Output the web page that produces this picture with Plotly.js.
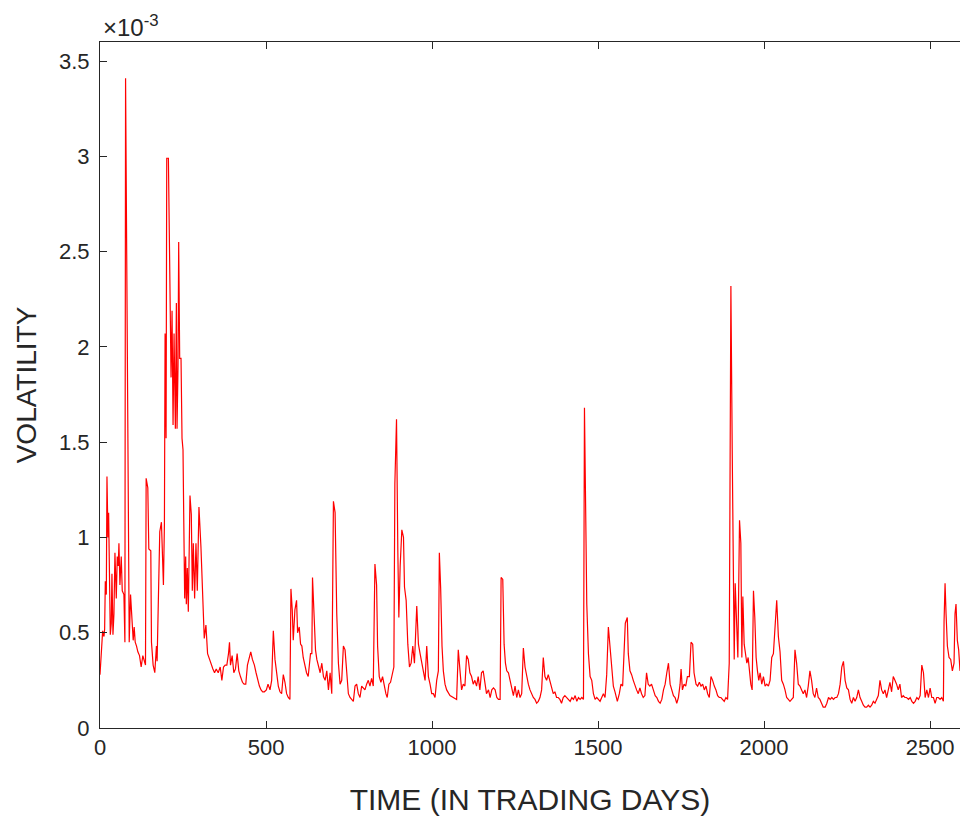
<!DOCTYPE html>
<html>
<head>
<meta charset="utf-8">
<script src="https://cdn.plot.ly/plotly-3.0.1.min.js"></script>
<style>
  html, body { margin: 0; padding: 0; background: #ffffff; }
  #chart { width: 960px; height: 816px; }
</style>
</head>
<body>
<div id="chart"></div>
<script>
// Trading day index (x)
const days = [
  0,2,4,8,12,14,16,19,21,24,26,29,31,34,36,39,42,45,49,52,55,57,60,64,67,72,75,77,80,84,88,92,96,100,103,106,110,114,119,124,129,134,137,139,144,147,153,155,160,165,170,172,175,180,185,191,194,196,199,201,206,209,211,214,217,220,223,227,230,232,235,237,240,244,247,250,252,255,258,260,263,266,271,275,278,281,285,289,293,298,304,309,314,319,324,330,335,340,345,
  350,356,362,367,372,377,382,387,390,393,398,403,408,413,418,423,429,434,439,444,449,454,459,465,470,475,480,485,490,495,501,506,
  512,517,522,527,532,537,542,547,552,557,562,567,572,575,579,582,587,592,595,600,604,608,612,617,622,627,630,634,638,640,645,649,653,658,663,668,673,678,683,688,693,698,703,708,713,718,723,728,733,738,743,748,753,758,763,768,773,778,783,788,793,798,803,808,813,818,823,828,833,836,841,846,851,856,861,865,870,875,880,885,888,893,897,900,904,909,914,917,922,927,932,937,942,947,954,959,964,969,974,979,984,989,994,999,1004,1009,1014,1019,1022,1026,1030,1034,
  1039,1044,1054,1064,1074,1079,1084,1089,1094,1099,1104,1109,1114,1119,1124,1129,1134,1139,1144,1149,1154,1159,1164,1170,1175,1180,1185,1190,1195,1200,1205,1208,1213,1217,1221,1225,1230,1235,1240,1245,1250,1255,1260,1265,1270,1275,1280,1285,1290,1295,1300,1305,1310,1315,1320,1325,1330,1335,1340,1345,1350,1355,1360,1365,1370,1375,1380,1385,1390,1395,1400,1405,1410,1416,1421,1426,1431,1436,1441,1446,1451,1456,1459,1462,1466,1471,1476,1481,1486,1491,1496,1501,1506,1511,1516,1521,1526,1531,1536,1541,1546,
  1551,1554,1558,1564,1569,1574,1578,1582,1588,1591,1596,1601,1606,1611,1616,1621,1626,1631,1636,1641,1646,1651,1656,1661,1666,1672,1677,1682,1687,1692,1697,1702,1707,1712,1717,1722,1727,1732,1737,1742,1747,1750,1754,1759,1764,1769,1775,1780,1785,1789,1795,1800,1805,1810,1815,1820,1825,1830,1835,1840,1845,1850,1855,1860,1865,1870,1875,1880,1885,1890,1895,1900,1904,1907,1910,1913,1917,1921,1926,1930,1933,1936,1940,1944,1948,1952,1956,1960,1964,1968,1972,1976,1980,1984,1988,1993,1998,2003,2008,2013,2018,2023,2028,2033,2038,2043,2048,
  2053,2058,2063,2068,2073,2078,2083,2088,2093,2098,2103,2108,2113,2118,2123,2128,2133,2138,2143,2148,2153,2158,2163,2168,2173,2178,2184,2189,2194,2199,2204,2209,2214,2219,2224,2229,2234,2239,2244,2249,2254,2259,2264,2269,2274,2279,2284,2289,2294,2299,2304,2309,2314,2319,2324,2329,2334,2339,2344,2349,2354,2359,2364,2369,2374,2379,2384,2389,2394,2399,2404,2409,2414,2419,2424,2429,2435,2440,2445,2450,2455,2460,2465,2470,2475,2480,2485,2490,2495,2500,2505,2510,2515,2520,2525,2530,2535,2540,2542,2545,2548,2552,2557,2562,2567,2572,2575,2578,2582,2586,2590,2595
];

// Volatility in units of 1e-3 (axis shows "x10^-3")
const volatility = [
  0.28,0.33,0.38,0.51,0.48,0.52,0.77,0.70,1.32,1.00,1.13,0.77,0.49,0.55,0.81,0.49,0.60,0.92,0.68,0.90,0.85,0.97,0.75,0.90,0.72,0.70,0.45,3.41,2.40,1.38,0.45,0.70,0.55,0.46,0.53,0.45,0.43,0.40,0.38,0.32,0.38,0.35,0.33,1.31,1.26,0.94,0.93,0.45,0.33,0.29,0.43,0.35,0.64,1.03,1.08,0.75,1.07,2.07,1.52,2.99,2.99,2.63,2.15,1.84,2.19,1.59,2.07,1.57,2.23,1.57,1.90,2.55,1.94,1.94,1.52,1.46,1.13,0.68,0.90,0.65,0.84,0.61,1.22,1.12,0.72,0.97,0.68,0.97,0.72,1.16,0.95,0.72,0.47,0.54,0.39,0.36,0.33,0.31,0.29,
  0.31,0.29,0.32,0.25,0.32,0.33,0.33,0.39,0.45,0.33,0.38,0.29,0.31,0.39,0.30,0.27,0.24,0.23,0.23,0.33,0.37,0.40,0.36,0.33,0.29,0.25,0.22,0.20,0.19,0.19,0.20,0.23,
  0.20,0.25,0.51,0.36,0.29,0.22,0.19,0.18,0.28,0.24,0.18,0.16,0.15,0.73,0.62,0.46,0.62,0.67,0.50,0.53,0.44,0.43,0.37,0.32,0.29,0.27,0.34,0.39,0.39,0.79,0.58,0.41,0.36,0.32,0.29,0.34,0.27,0.25,0.30,0.20,0.29,0.18,1.19,1.13,0.60,0.34,0.23,0.25,0.43,0.41,0.29,0.18,0.16,0.15,0.14,0.22,0.23,0.18,0.16,0.22,0.21,0.20,0.23,0.25,0.22,0.26,0.22,0.86,0.75,0.43,0.27,0.24,0.27,0.22,0.18,0.16,0.23,0.24,0.29,0.32,1.28,1.62,0.92,0.58,0.85,1.04,1.00,0.74,0.67,0.44,0.32,0.34,0.43,0.34,0.64,0.44,0.39,0.34,0.29,0.25,0.43,0.27,0.23,0.18,0.18,0.16,0.25,0.30,0.92,0.73,0.43,0.30,
  0.23,0.20,0.17,0.16,0.15,0.41,0.30,0.20,0.23,0.22,0.38,0.36,0.29,0.27,0.23,0.25,0.22,0.27,0.20,0.29,0.30,0.23,0.18,0.20,0.16,0.20,0.21,0.20,0.16,0.15,0.15,0.79,0.78,0.44,0.34,0.30,0.29,0.25,0.20,0.17,0.22,0.16,0.20,0.16,0.18,0.42,0.32,0.27,0.23,0.20,0.18,0.16,0.15,0.13,0.14,0.16,0.20,0.37,0.27,0.25,0.28,0.25,0.22,0.18,0.19,0.16,0.16,0.15,0.13,0.16,0.17,0.16,0.15,0.14,0.16,0.15,0.17,0.14,0.16,0.15,0.16,0.15,1.68,1.21,0.65,0.39,0.27,0.25,0.18,0.15,0.16,0.15,0.14,0.16,0.18,0.16,0.28,0.53,0.41,0.29,0.22,
  0.19,0.17,0.14,0.18,0.23,0.22,0.42,0.55,0.58,0.39,0.30,0.28,0.25,0.22,0.20,0.18,0.21,0.18,0.16,0.17,0.29,0.23,0.22,0.23,0.20,0.17,0.16,0.14,0.13,0.15,0.20,0.23,0.29,0.34,0.23,0.20,0.17,0.16,0.13,0.16,0.23,0.31,0.20,0.23,0.22,0.27,0.27,0.45,0.44,0.29,0.23,0.22,0.24,0.22,0.23,0.20,0.22,0.18,0.16,0.27,0.25,0.22,0.20,0.17,0.16,0.16,0.15,0.14,0.16,0.15,0.34,2.32,1.46,0.76,0.36,0.76,0.50,0.37,1.09,0.97,0.37,0.69,0.44,0.38,0.34,0.37,0.30,0.23,0.20,0.72,0.58,0.37,0.30,0.25,0.29,0.23,0.27,0.22,0.23,0.22,0.25,0.37,0.39,0.51,0.67,0.48,0.40,
  0.25,0.23,0.20,0.16,0.15,0.14,0.15,0.16,0.41,0.34,0.23,0.22,0.20,0.18,0.20,0.16,0.22,0.30,0.25,0.18,0.16,0.21,0.16,0.15,0.13,0.11,0.11,0.13,0.16,0.15,0.16,0.15,0.16,0.16,0.18,0.23,0.32,0.35,0.25,0.21,0.20,0.15,0.13,0.16,0.14,0.16,0.20,0.16,0.14,0.12,0.11,0.11,0.12,0.11,0.12,0.14,0.13,0.15,0.17,0.25,0.20,0.18,0.20,0.16,0.21,0.24,0.19,0.27,0.25,0.23,0.20,0.23,0.16,0.17,0.16,0.16,0.15,0.16,0.14,0.13,0.14,0.16,0.15,0.17,0.33,0.29,0.16,0.20,0.16,0.21,0.16,0.16,0.13,0.16,0.16,0.15,0.16,0.14,0.56,0.76,0.60,0.43,0.37,0.36,0.30,0.34,0.60,0.65,0.46,0.41,0.30,0.35
];

const xTickVals = [0, 500, 1000, 1500, 2000, 2500];
const yTickVals = [0, 0.5, 1, 1.5, 2, 2.5, 3, 3.5];
const yTickText = ['0', '0.5', '1', '1.5', '2', '2.5', '3', '3.5'];

const ink = '#262626';
const fontFamily = '"Liberation Sans", Arial, Helvetica, sans-serif';

const trace = {
  x: days,
  y: volatility,
  type: 'scatter',
  mode: 'lines',
  line: { color: '#ff0000', width: 1.2 },
  hoverinfo: 'x+y'
};

const layout = {
  width: 960,
  height: 816,
  margin: { l: 100, r: 0, t: 42, b: 88 },
  paper_bgcolor: '#ffffff',
  plot_bgcolor: '#ffffff',
  showlegend: false,
  font: { family: fontFamily, color: ink, size: 22 },
  xaxis: {
    range: [0, 2590],
    tickvals: xTickVals,
    ticks: 'inside',
    ticklen: 7,
    tickwidth: 1,
    tickcolor: ink,
    showline: true,
    linecolor: ink,
    linewidth: 1,
    mirror: 'ticks',
    showgrid: false,
    zeroline: false,
    tickfont: { family: fontFamily, size: 22, color: ink },
    title: { text: 'TIME (IN TRADING DAYS)', font: { family: fontFamily, size: 30, color: ink }, standoff: 32 }
  },
  yaxis: {
    range: [0, 3.6],
    tickvals: yTickVals,
    ticktext: yTickText,
    ticks: 'inside',
    ticklen: 7,
    tickwidth: 1,
    tickcolor: ink,
    showline: true,
    linecolor: ink,
    linewidth: 1,
    mirror: false,
    showgrid: false,
    zeroline: false,
    ticklabelstandoff: 5,
    tickfont: { family: fontFamily, size: 22, color: ink },
    title: { text: 'VOLATILITY', font: { family: fontFamily, size: 28, color: ink }, standoff: 14 }
  },
  annotations: [{
    xref: 'paper', yref: 'paper',
    x: 0, y: 1,
    xanchor: 'left', yanchor: 'bottom',
    xshift: 1, yshift: -1,
    showarrow: false,
    text: '×10<sup>-3</sup>',
    font: { family: fontFamily, size: 24, color: ink }
  }]
};

Plotly.newPlot('chart', [trace], layout, { displayModeBar: false, staticPlot: true });
</script>
</body>
</html>
